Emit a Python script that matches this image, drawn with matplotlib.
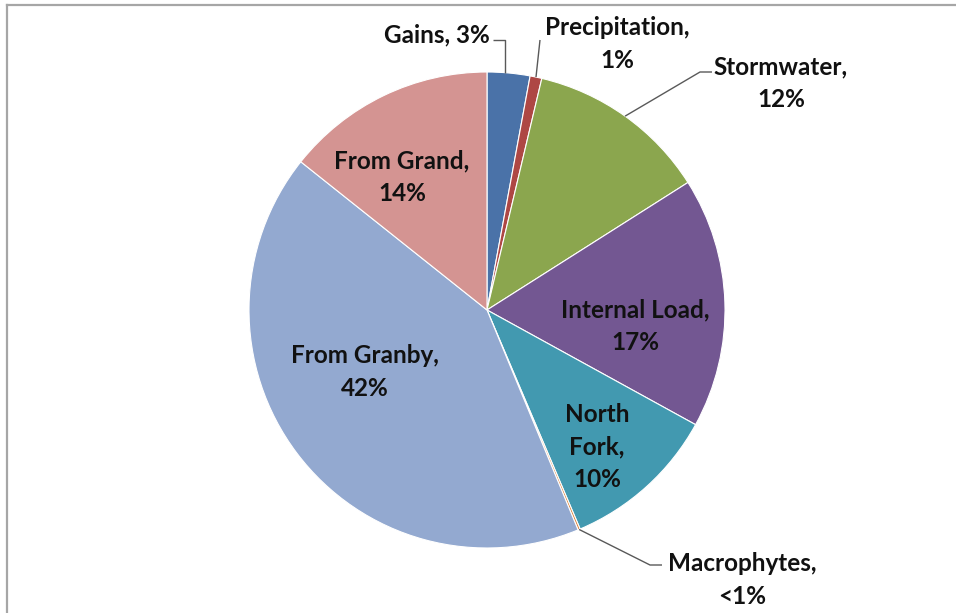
import numpy as np
import matplotlib
matplotlib.use("Agg")
import matplotlib.pyplot as plt
from matplotlib.lines import Line2D

# ---- data ----
categories = ["Gains", "Precipitation", "Stormwater", "Internal Load",
              "North Fork", "Macrophytes", "From Granby", "From Grand"]
values = [2.9, 0.8, 12.3, 17.0, 10.6, 0.15, 41.95, 14.3]
labels = ["Gains, 3%", "Precipitation,\n1%", "Stormwater,\n12%", "Internal Load,\n17%",
          "North\nFork,\n10%", "Macrophytes,\n<1%", "From Granby,\n42%", "From Grand,\n14%"]
colors = ["#4A72A8", "#AE4744", "#8BA64E", "#735792",
          "#4299B0", "#DB843D", "#93A9D0", "#D49492"]

W, H = 956, 613
CX, CY, R = 487, 310, 238

plt.rcParams['font.family'] = ['Lato', 'DejaVu Sans']
fig = plt.figure(figsize=(W / 100, H / 100), dpi=100)
fig.patch.set_facecolor("white")
ax = fig.add_axes([(CX - R) / W, (H - CY - R) / H, 2 * R / W, 2 * R / H])
ax.pie(values, colors=colors, startangle=90, counterclock=False, radius=1,
       wedgeprops=dict(edgecolor="white", linewidth=0.8))
ax.set_xlim(-1, 1)
ax.set_ylim(-1, 1)
ax.set_aspect("auto")
ax.axis("off")


def d(px, py):
    """pixel (top-left origin) -> pie data coords"""
    return (px - CX) / R, (CY - py) / R


# label positions (pixel centers)
label_pos = {
    "Gains": (437, 35),
    "Precipitation": (617, 44),
    "Stormwater": (781, 83),
    "Internal Load": (635, 326),
    "North Fork": (597, 447),
    "Macrophytes": (742, 580),
    "From Granby": (365, 372),
    "From Grand": (402, 177),
}

for cat, lab in zip(categories, labels):
    px, py = label_pos[cat]
    x, y = d(px, py)
    ax.text(x, y, lab, ha="center", va="center", fontsize=17.5, fontweight="bold",
            color="#111111", linespacing=1.5, clip_on=False)

# leader lines: start at slice edge mid-angle
cum = np.cumsum([0] + values)
tot = cum[-1]


def edge(i):
    mid = (cum[i] + cum[i + 1]) / 2 / tot * 2 * np.pi
    return np.sin(mid), np.cos(mid)


leaders = {
    "Gains": [d(493, 40), d(505, 40)],
    "Precipitation": [d(540, 40)],
    "Stormwater": [d(712, 72), d(700, 72)],
    "Macrophytes": [d(662, 565), d(650, 565)],
}
for i, cat in enumerate(categories):
    if cat in leaders:
        ex, ey = edge(i)
        pts = leaders[cat]
        if cat == "Gains":
            pts = [pts[0], pts[1], (pts[1][0], ey)]
        else:
            pts = pts + [(ex, ey)]
        xs = [p[0] for p in pts]
        ys = [p[1] for p in pts]
        ax.plot(xs, ys, color="#595959", linewidth=1.0, clip_on=False,
                solid_capstyle="butt")

# frame (left and top only)
fig.add_artist(Line2D([6.5 / W, 6.5 / W], [0, 1 - 5 / H], transform=fig.transFigure,
                      color="#A6A6A6", linewidth=1.6))
fig.add_artist(Line2D([6.5 / W, 1], [1 - 5 / H, 1 - 5 / H], transform=fig.transFigure,
                      color="#A6A6A6", linewidth=1.6))

fig.savefig("out.png", dpi=100, facecolor="white")
